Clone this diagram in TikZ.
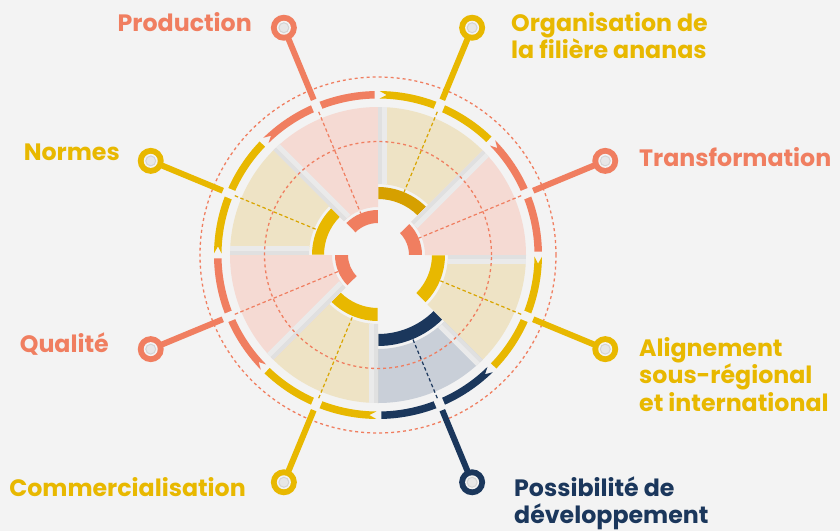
\documentclass[tikz,border=0pt]{standalone}
\usepackage{fontspec}
\setmainfont{Poppins}
\definecolor{bgc}{HTML}{F3F3F3}
\definecolor{salmon}{HTML}{F07E60}
\definecolor{yel}{HTML}{E8B800}
\definecolor{gold}{HTML}{D6A000}
\definecolor{goldd}{HTML}{D9A500}
\definecolor{navy}{HTML}{1B375C}
\definecolor{pinkw}{HTML}{F5DAD3}
\definecolor{tanw}{HTML}{EEE3C5}
\definecolor{bluew}{HTML}{C9CFD8}
\definecolor{stripa}{HTML}{E0E0E0}
\definecolor{stripb}{HTML}{EAEAEA}
\definecolor{hole}{HTML}{E7E7E7}
\definecolor{holeb}{HTML}{D4D4D4}
\begin{document}
\begin{tikzpicture}[x=1pt,y=1pt,
  lbl/.style={font=\fontsize{23.7}{27}\selectfont\bfseries, inner sep=0pt},
  dashc/.style={line width=1.3pt, dash pattern=on 3pt off 3pt},
  dashl/.style={line width=1.2pt, dash pattern=on 3.5pt off 2.5pt},
  leader/.style={line width=6pt},
  marker/.style={circle, minimum size=26pt, inner sep=0pt},
  ]
\useasboundingbox (-378,-276) rectangle (462,255);
\fill[bgc] (-378,-276) rectangle (462,255);
% wedges, strips and inner bands
\foreach \a/\wc/\bc/\bi/\bo in {90/pinkw/salmon/32/45, 45/tanw/gold/56/68, 0/pinkw/salmon/31/44, -45/tanw/yel/54/67, -90/bluew/navy/79/91, -135/tanw/yel/53/66, 180/pinkw/salmon/30/43, 135/tanw/yel/54/66}{
  \pgfmathsetmacro\wi{\bo+3}
  \fill[\wc] (\a:\wi pt) arc[start angle=\a, end angle=\a+45, radius=\wi pt] -- ({\a+45}:148pt) arc[start angle=\a+45, end angle=\a, radius=148pt] -- cycle;
  \fill[stripa, rotate=\a+45] (\wi,-4) rectangle (148,0);
  \fill[stripb, rotate=\a+45] (\wi,-9) rectangle (148,-4);
  \fill[\bc] ({\a+0.3}:\bi pt) arc[start angle=\a+0.3, end angle=\a+44.7, radius=\bi pt] -- ({\a+44.7}:\bo pt) arc[start angle=\a+44.7, end angle=\a+0.3, radius=\bo pt] -- cycle;
}
% dashed circles
\draw[salmon, dashc] (0,0) circle[radius=113.5pt];
\draw[salmon, dashc] (0,0) circle[radius=178pt];
% ring segments, leaders, markers
\foreach \a/\rc/\dc/\bo/\n in {90/salmon/salmon/45/prod, 45/yel/goldd/68/org, 0/salmon/salmon/44/tra, -45/yel/goldd/67/ali, -90/navy/navy/91/pos, -135/yel/goldd/66/com, 180/salmon/salmon/43/qua, 135/yel/goldd/66/nor}{
  \pgfmathsetmacro\m{\a+22.5}
  \fill[\rc] ({\a+1.2}:156.5pt) -- ({\a+1.2}:164pt) arc[start angle=\a+1.2, end angle=\a+44.4, radius=164pt] -- ({\a+41.9}:160.25pt) -- ({\a+44.4}:156.5pt) arc[start angle=\a+44.4, end angle=\a+1.2, radius=156.5pt] -- cycle;
  \draw[bgc, line width=9pt] (\m:152pt) -- (\m:168pt);
  \coordinate (in\n) at (\m:155pt);
  \coordinate (bd\n) at (\m:\bo pt);
  \coordinate (rg\n) at (\m:168pt);
  \coordinate (mc\n) at (\m:246pt);
  \draw[\dc, dashl] (in\n) -- (bd\n);
  \draw[\rc, leader] (rg\n) -- (mc\n);
  \node[marker, fill=\rc] (m\n) at (mc\n) {};
  \fill[bgc] (m\n.center) circle[radius=7pt];
  \filldraw[fill=hole, draw=holeb, line width=1pt] (m\n.center) circle[radius=5pt];
}
% labels
\node[lbl, text=salmon, anchor=base east] (tprod) at (-126,223.3) {Production};
\node[lbl, text=yel, anchor=base west] (torg1) at (133,223.3) {Organisation de};
\node[lbl, text=yel, anchor=base west] (torg2) at (133,196.5) {la filière ananas};
\node[lbl, text=salmon, anchor=base west] (ttra) at (261,88.3) {Transformation};
\node[lbl, text=yel, anchor=base west] (tali1) at (261,-101) {Alignement};
\node[lbl, text=yel, anchor=base west] (tali2) at (261,-128.5) {sous-régional};
\node[lbl, text=yel, anchor=base west] (tali3) at (261,-156.5) {et international};
\node[lbl, text=navy, anchor=base west] (tpos1) at (136,-241) {Possibilité de};
\node[lbl, text=navy, anchor=base west] (tpos2) at (136,-268.3) {développement};
\node[lbl, text=yel, anchor=base east] (tcom) at (-132,-241) {Commercialisation};
\node[lbl, text=yel, anchor=base east] (tnor) at (-258,94.3) {Normes};
\node[lbl, text=salmon, anchor=base east] (tqua) at (-269,-97) {Qualité};
\end{tikzpicture}
\end{document}
